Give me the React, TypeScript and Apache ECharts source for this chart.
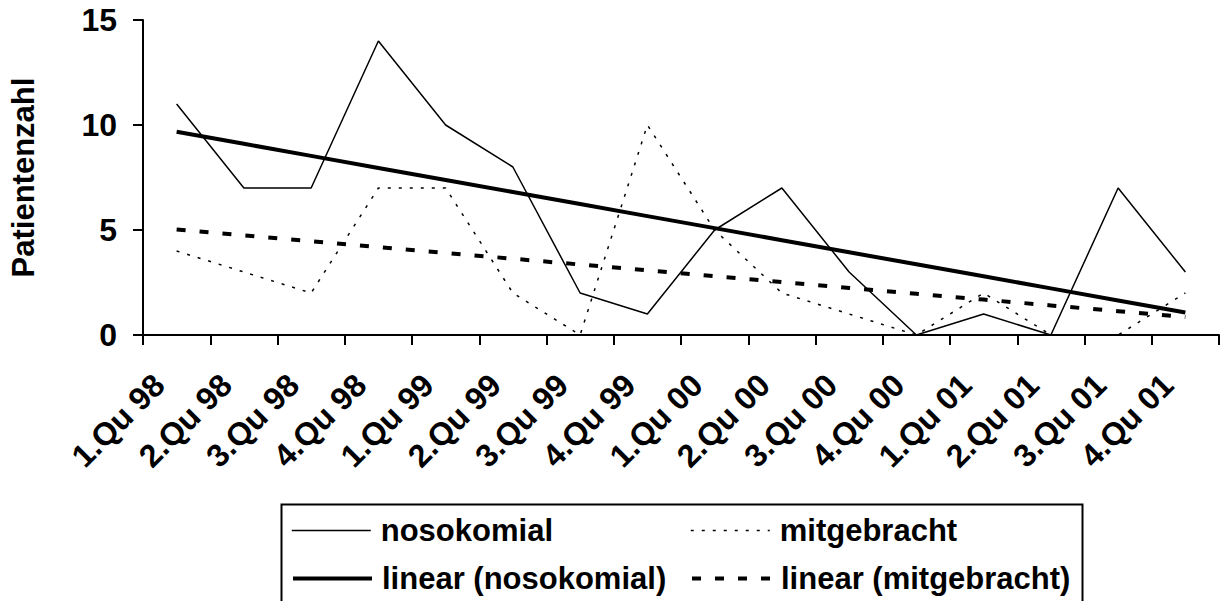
import React, { useEffect, useRef } from "react";
import * as echarts from "echarts";

const categories = [
  "1.Qu 98", "2.Qu 98", "3.Qu 98", "4.Qu 98",
  "1.Qu 99", "2.Qu 99", "3.Qu 99", "4.Qu 99",
  "1.Qu 00", "2.Qu 00", "3.Qu 00", "4.Qu 00",
  "1.Qu 01", "2.Qu 01", "3.Qu 01", "4.Qu 01",
];
const nosokomial = [11, 7, 7, 14, 10, 8, 2, 1, 5, 7, 3, 0, 1, 0, 7, 3];
const mitgebracht = [4, 3, 2, 7, 7, 2, 0, 10, 5, 2, 1, 0, 2, 0, 0, 2];
const yMin = 0;
const yMax = 15;
const yInterval = 5;

// Excel-style linear trendline (least squares) of a series
function linearTrend(values: number[]): number[] {
  const n = values.length;
  const xs = values.map((_, i) => i + 1);
  const mx = xs.reduce((a, b) => a + b, 0) / n;
  const my = values.reduce((a, b) => a + b, 0) / n;
  let sxy = 0;
  let sxx = 0;
  for (let i = 0; i < n; i++) {
    sxy += (xs[i] - mx) * (values[i] - my);
    sxx += (xs[i] - mx) * (xs[i] - mx);
  }
  const slope = sxy / sxx;
  return xs.map((x) => +(my + slope * (x - mx)).toFixed(4));
}

const FONT = "'Liberation Sans', Arial, sans-serif";

const thinSolid = { color: "#000", width: 1.5, type: "solid" as any };
const thinDotted = { color: "#000", width: 1.5, type: [3, 8] as any };
const thickSolid = { color: "#000", width: 4, type: "solid" as any };
const thickDashed = { color: "#000", width: 4, type: [9, 14] as any };

export default function App() {
  const ref = useRef<HTMLDivElement>(null);
  useEffect(() => {
    if (!ref.current) return;
    const chart = echarts.init(ref.current, undefined, { renderer: "svg" });
    const legendText = {
      fontFamily: FONT,
      fontWeight: "bold" as const,
      fontSize: 31,
      color: "#000",
      padding: [0, 0, 0, 5],
    };
    const legendBase = {
      orient: "horizontal" as const,
      padding: 0,
      itemWidth: 79,
      itemHeight: 14,
      textStyle: legendText,
      selectedMode: false,
      itemStyle: { opacity: 0 },
    };
    chart.setOption({
      animation: false,
      backgroundColor: "#fff",
      grid: { left: 143, right: 6, top: 20, bottom: 266, containLabel: false },
      xAxis: {
        type: "category",
        data: categories,
        boundaryGap: true,
        axisLine: { lineStyle: { color: "#000", width: 2 } },
        axisTick: { show: true, length: 10, lineStyle: { color: "#000", width: 2 } },
        axisLabel: {
          interval: 0,
          rotate: 45,
          margin: 27,
          padding: [0, 25, 0, 0],
          fontFamily: FONT,
          fontWeight: "bold",
          fontSize: 32,
          color: "#000",
        },
        splitLine: { show: false },
      },
      yAxis: {
        type: "value",
        min: yMin,
        max: yMax,
        interval: yInterval,
        name: "Patientenzahl",
        nameLocation: "middle",
        nameRotate: 90,
        nameGap: 104,
        nameTextStyle: {
          fontFamily: FONT,
          fontWeight: "bold",
          fontSize: 31,
          color: "#000",
        },
        axisLine: { show: true, lineStyle: { color: "#000", width: 2 } },
        axisTick: { show: true, length: 10, lineStyle: { color: "#000", width: 2 } },
        axisLabel: {
          margin: 26,
          fontFamily: FONT,
          fontWeight: "bold",
          fontSize: 32,
          color: "#000",
        },
        splitLine: { show: false },
      },
      legend: [
        { ...legendBase, data: ["nosokomial"], left: 291, top: 515, lineStyle: thinSolid },
        { ...legendBase, data: ["mitgebracht"], left: 690, top: 515, lineStyle: thinDotted },
        { ...legendBase, data: ["linear (nosokomial)"], left: 291, top: 563, lineStyle: thickSolid },
        { ...legendBase, data: ["linear (mitgebracht)"], left: 690, top: 563, lineStyle: thickDashed },
      ],
      graphic: [
        {
          type: "rect",
          left: 279,
          top: 502,
          shape: { width: 801, height: 200 },
          style: { fill: "none", stroke: "#000", lineWidth: 2 },
          z: -1,
        },
      ],
      series: [
        {
          name: "nosokomial",
          type: "line",
          data: nosokomial,
          symbol: "none",
          lineStyle: thinSolid,
          itemStyle: { color: "#000" },
        },
        {
          name: "mitgebracht",
          type: "line",
          data: mitgebracht,
          symbol: "none",
          lineStyle: thinDotted,
          itemStyle: { color: "#000" },
        },
        {
          name: "linear (nosokomial)",
          type: "line",
          data: linearTrend(nosokomial),
          symbol: "none",
          lineStyle: thickSolid,
          itemStyle: { color: "#000" },
        },
        {
          name: "linear (mitgebracht)",
          type: "line",
          data: linearTrend(mitgebracht),
          symbol: "none",
          lineStyle: thickDashed,
          itemStyle: { color: "#000" },
        },
      ],
    });
    return () => chart.dispose();
  }, []);
  return (
    <div
      ref={ref}
      style={{ position: "fixed", left: 0, top: 0, width: 1225, height: 601, background: "#fff" }}
    />
  );
}
